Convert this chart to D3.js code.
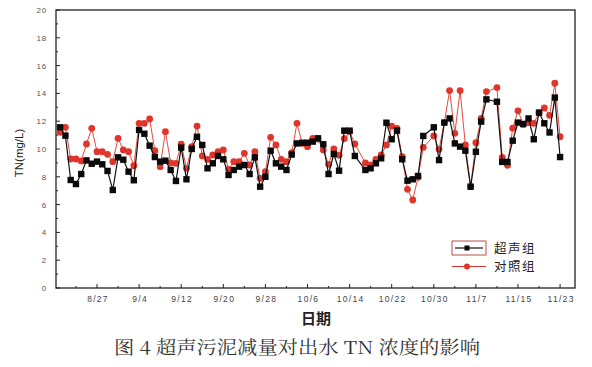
<!DOCTYPE html>
<html><head><meta charset="utf-8">
<script src="https://cdn.jsdelivr.net/npm/d3@7"></script>
<style>
html,body{margin:0;padding:0;background:#fff;}
svg{display:block;}
</style></head>
<body>
<script>
// ---- data ----
const dates = ["8/20","8/21","8/22","8/23","8/24","8/25","8/26","8/27","8/28","8/29","8/30","8/31",
"9/1","9/2","9/3","9/4","9/5","9/6","9/7","9/8","9/9","9/10","9/11","9/12","9/13","9/14","9/15","9/16","9/17","9/18","9/19","9/20","9/21","9/22","9/23","9/24","9/25","9/26","9/27","9/28","9/29","9/30",
"10/1","10/2","10/3","10/4","10/5","10/6","10/7","10/8","10/9","10/10","10/11","10/12","10/13","10/14","10/15","10/17","10/18","10/19","10/20","10/21","10/22","10/23","10/24","10/25","10/26","10/27","10/28","10/30","10/31",
"11/1","11/2","11/3","11/4","11/5","11/6","11/7","11/8","11/9","11/11","11/12","11/13","11/14","11/15","11/16","11/17","11/18","11/19","11/20","11/21","11/22","11/23"];
const ultrasonic = [11.56,10.96,7.77,7.48,8.2,9.18,8.94,9.09,8.9,8.42,7.05,9.4,
9.23,8.37,7.75,11.37,11.1,10.24,9.42,9.09,9.16,8.49,7.7,10.1,7.82,10.0,10.88,10.29,8.61,8.97,9.5,9.26,8.13,8.49,8.73,8.85,8.2,9.4,7.29,8.0,9.88,8.97,
8.73,8.49,9.6,10.4,10.45,10.45,10.53,10.77,10.34,8.2,9.64,8.44,11.32,11.32,9.5,8.49,8.61,8.97,9.33,11.89,10.7,11.32,9.26,7.72,7.82,8.06,10.94,11.56,9.2,
11.9,12.2,10.4,10.17,9.88,7.29,9.8,11.97,13.57,13.4,9.07,9.07,10.6,11.9,11.8,12.2,10.7,12.62,11.85,11.19,13.7,9.42];
const control = [11.2,11.56,9.28,9.28,9.14,10.36,11.49,9.81,9.81,9.62,9.09,10.77,
9.93,9.81,8.8,11.85,11.85,12.16,9.88,8.73,11.25,9.0,8.97,10.34,8.61,10.17,11.65,9.5,9.26,9.57,9.81,9.93,8.54,9.09,9.09,9.69,8.85,9.81,7.89,8.37,10.84,10.29,
9.26,9.09,9.73,11.85,10.4,10.17,10.77,10.72,9.93,8.9,10.0,9.55,10.75,11.25,10.36,9.0,8.85,9.26,9.57,10.29,11.65,11.49,9.45,7.1,6.33,7.96,10.12,10.94,9.98,
11.9,14.2,11.13,14.2,10.29,7.29,10.45,12.2,14.13,14.42,9.4,8.83,11.5,12.75,11.77,11.9,11.85,12.6,12.95,12.42,14.73,10.88];
const xTickLabels = ["8/27","9/4","9/12","9/20","9/28","10/6","10/14","10/22","10/30","11/7","11/15","11/23"];
const yTicks = [0,2,4,6,8,10,12,14,16,18,20];
const seriesNames = ["超声组","对照组"];
const yTitle = "TN(mg/L)";
const xTitle = "日期";
const caption = "图 4 超声污泥减量对出水 TN 浓度的影响";

// ---- layout ----
const W = 592, H = 367;
const L = 56, R = 575, T = 10, B = 288;
const parse = s => d3.utcParse("%Y/%m/%d")("2012/" + s);
const svg = d3.select("body").append("svg").attr("width", W).attr("height", H);

const x = d3.scaleUtc()
  .domain([new Date(Date.UTC(2012,7,19,5)), new Date(Date.UTC(2012,10,25,20))])
  .range([L, R]);
const y = d3.scaleLinear().domain([0, 20]).range([B, T]);

const data = dates.map((d, i) => ({d: parse(d), u: ultrasonic[i], c: control[i]}));

// frame
svg.append("rect").attr("x", L).attr("y", T).attr("width", R - L).attr("height", B - T)
  .attr("fill", "none").attr("stroke", "#222").attr("stroke-width", 1.3);

// x axis ticks
const majorDates = xTickLabels.map(parse);
const minorDates = majorDates.map(d => d3.utcDay.offset(d, -4));
const gx = svg.append("g");
gx.selectAll("line.maj").data(majorDates).enter().append("line")
  .attr("x1", d => x(d)).attr("x2", d => x(d)).attr("y1", B).attr("y2", B - 4)
  .attr("stroke", "#222").attr("stroke-width", 1);
gx.selectAll("line.min").data(minorDates).enter().append("line")
  .attr("x1", d => x(d)).attr("x2", d => x(d)).attr("y1", B).attr("y2", B - 2)
  .attr("stroke", "#222").attr("stroke-width", 1);
gx.selectAll("text").data(xTickLabels).enter().append("text")
  .attr("x", d => x(parse(d)) + 1).attr("y", B + 14)
  .attr("text-anchor", "middle")
  .style("font-family", "Arial, 'Liberation Sans', sans-serif")
  .style("font-size", "8.5px").style("letter-spacing", "1.3px")
  .attr("fill", "#444").text(d => d);

// y axis ticks
const gy = svg.append("g");
gy.selectAll("line.maj").data(yTicks).enter().append("line")
  .attr("x1", L).attr("x2", L + 4).attr("y1", d => y(d)).attr("y2", d => y(d))
  .attr("stroke", "#222");
gy.selectAll("line.min").data(yTicks.slice(0, -1).map(v => v + 1)).enter().append("line")
  .attr("x1", L).attr("x2", L + 2).attr("y1", d => y(d)).attr("y2", d => y(d))
  .attr("stroke", "#222");
gy.selectAll("text").data(yTicks).enter().append("text")
  .attr("x", L - 9).attr("y", d => y(d) + 3)
  .attr("text-anchor", "end")
  .style("font-family", "Arial, 'Liberation Sans', sans-serif")
  .style("font-size", "8px").style("letter-spacing", "0.8px")
  .attr("fill", "#555").text(d => d);

// titles
svg.append("text").attr("transform", `translate(23,${(T + B) / 2 + 4}) rotate(-90)`)
  .attr("text-anchor", "middle")
  .style("font-family", "Arial, 'Liberation Sans', sans-serif").style("font-size", "11.5px")
  .attr("fill", "#222").text(yTitle);
svg.append("text").attr("x", 316).attr("y", 324).attr("text-anchor", "middle")
  .style("font-family", "'Noto Sans CJK SC', sans-serif").style("font-size", "15px")
  .style("font-weight", "bold").attr("fill", "#222").text(xTitle);
svg.append("text").attr("x", 114).attr("y", 354)
  .attr("textLength", 366).attr("lengthAdjust", "spacingAndGlyphs")
  .style("font-family", "'Noto Serif CJK SC', 'Noto Sans CJK SC', serif").style("font-size", "18px")
  .attr("fill", "#333").text(caption);

// lines
const red = "#e0352b";
const lineC = d3.line().x(d => x(d.d)).y(d => y(d.c));
const lineU = d3.line().x(d => x(d.d)).y(d => y(d.u));
svg.append("path").datum(data).attr("d", lineC).attr("fill", "none")
  .attr("stroke", red).attr("stroke-width", 0.9);
svg.selectAll("circle.c").data(data).enter().append("circle")
  .attr("cx", d => x(d.d)).attr("cy", d => y(d.c)).attr("r", 3.4).attr("fill", red);
svg.append("path").datum(data).attr("d", lineU).attr("fill", "none")
  .attr("stroke", "#111").attr("stroke-width", 1.2);
svg.selectAll("rect.u").data(data).enter().append("rect")
  .attr("x", d => x(d.d) - 3.2).attr("y", d => y(d.u) - 3.2)
  .attr("width", 6.4).attr("height", 6.4).attr("fill", "#0a0a0a");

// legend
const rowY = [248, 266.5];
const lg = svg.append("g");
lg.append("rect").attr("x", 452).attr("y", rowY[0] - 7).attr("width", 34).attr("height", 14)
  .attr("fill", "none").attr("stroke", "#b5504a").attr("stroke-width", 1);
lg.append("line").attr("x1", 455).attr("x2", 483).attr("y1", rowY[0]).attr("y2", rowY[0])
  .attr("stroke", "#111").attr("stroke-width", 1.2);
lg.append("rect").attr("x", 464.5).attr("y", rowY[0] - 2.5).attr("width", 5).attr("height", 5).attr("fill", "#0a0a0a");
lg.append("line").attr("x1", 452).attr("x2", 486).attr("y1", rowY[1]).attr("y2", rowY[1])
  .attr("stroke", red).attr("stroke-width", 1);
lg.append("circle").attr("cx", 467).attr("cy", rowY[1]).attr("r", 3).attr("fill", red);
lg.selectAll("text").data(seriesNames).enter().append("text")
  .attr("x", 494).attr("y", (d, i) => rowY[i] + 4.5)
  .style("font-family", "'Noto Sans CJK SC', sans-serif").style("font-size", "12.5px")
  .style("letter-spacing", "1.5px")
  .attr("fill", "#222").text(d => d);
</script>
</body></html>
